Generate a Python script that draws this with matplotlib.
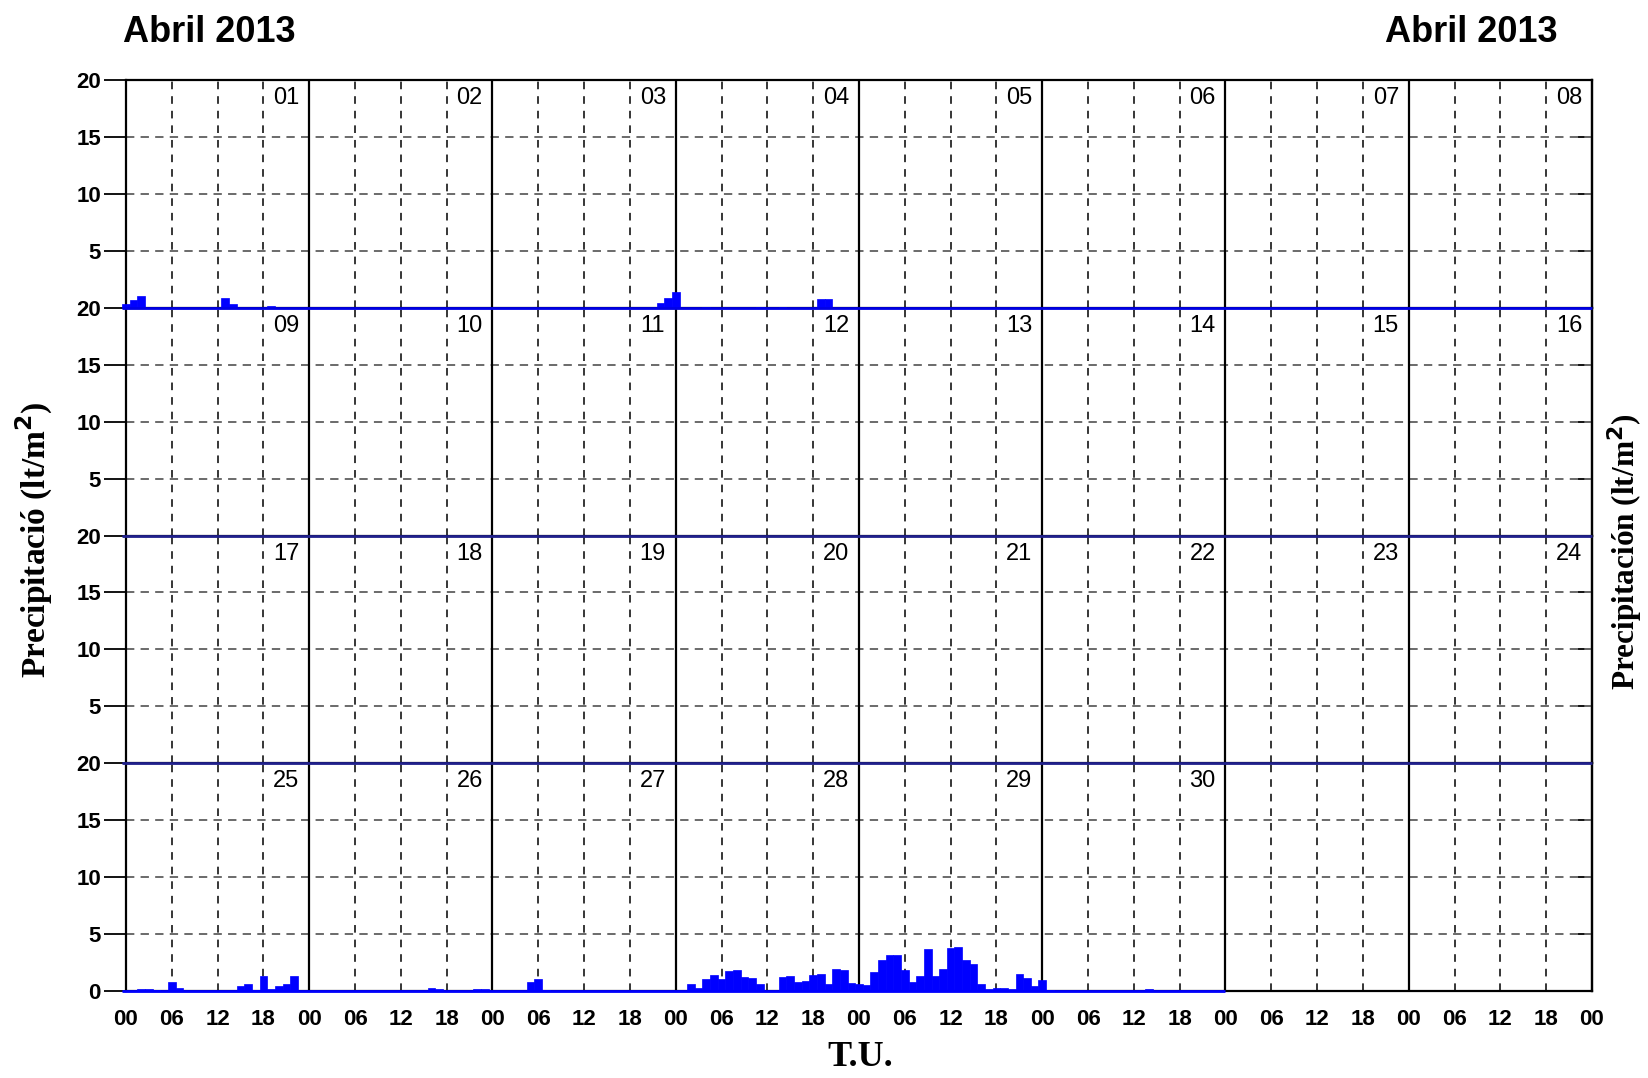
#!/usr/bin/env python3
import matplotlib
matplotlib.use('Agg')
import matplotlib.pyplot as plt
import numpy as np

matplotlib.rcParams['lines.scale_dashes'] = False

FIGSIZE = (16.49, 10.78)
DPI = 100

HOURS = list(range(24))
DAY_LABELS = ["%02d" % d for d in range(1, 31)]
HOUR_TICKS = ["00", "06", "12", "18"]
YTICKS = [5, 10, 15, 20]

# hourly precipitation (lt/m2), one value per hour 00..23
rain_01 = [0.35, 0.65, 1.0, 0, 0, 0, 0, 0, 0, 0, 0, 0, 0, 0.9, 0.3, 0, 0, 0, 0, 0.17, 0, 0, 0, 0]
rain_03 = [0, 0, 0, 0, 0, 0, 0, 0, 0, 0, 0, 0, 0, 0, 0, 0, 0, 0, 0, 0, 0, 0, 0.45, 0.9]
rain_04 = [1.35, 0, 0, 0, 0.1, 0, 0, 0, 0, 0, 0, 0.1, 0, 0, 0.1, 0, 0, 0, 0, 0.75, 0.75, 0, 0, 0]
rain_25 = [0, 0, 0.18, 0.18, 0.06, 0, 0.75, 0.27, 0, 0, 0, 0, 0, 0, 0, 0.47, 0.58, 0.1, 1.28, 0.18, 0.47, 0.58, 1.35, 0]
rain_26 = [0, 0, 0, 0, 0, 0, 0, 0, 0, 0, 0, 0, 0, 0, 0, 0, 0.3, 0.2, 0, 0, 0, 0, 0.2, 0.2]
rain_27 = [0, 0, 0, 0, 0, 0.8, 1.08, 0.1, 0, 0, 0, 0, 0, 0, 0, 0, 0, 0, 0, 0, 0, 0, 0, 0]
rain_28 = [0, 0, 0.61, 0.23, 1.02, 1.37, 1.02, 1.72, 1.84, 1.2, 1.11, 0.61, 0, 0, 1.2, 1.32, 0.82, 0.9, 1.4, 1.49, 0.61, 1.9, 1.84, 0.67]
rain_29 = [0.61, 0.5, 1.7, 2.72, 3.16, 3.16, 1.84, 0.82, 1.32, 3.68, 1.32, 1.9, 3.8, 3.89, 2.72, 2.4, 0.61, 0.2, 0.3, 0.3, 0.2, 1.49, 1.11, 0.44]
rain_30 = [0.96, 0.05, 0, 0, 0, 0, 0, 0, 0, 0, 0, 0, 0, 0, 0.2, 0, 0, 0, 0, 0, 0, 0, 0, 0]
DRY = [0] * 24

RAIN = {1: rain_01, 3: rain_03, 4: rain_04, 25: rain_25, 26: rain_26,
        27: rain_27, 28: rain_28, 29: rain_29, 30: rain_30}

BLUE = '#0000FF'
BASE_COLORS = ['#0000E6', '#20208C', '#20208C', '#0000FF']
LEFT, RIGHT = 126 / 1649, 1592 / 1649
TOP, BOTTOM = 1 - 80 / 1078, 1 - 991 / 1078


def day_values(day):
    return RAIN.get(day, DRY)


def draw_row(fig, row):
    h = (TOP - BOTTOM) / 4
    ax = fig.add_axes([LEFT, TOP - (row + 1) * h, RIGHT - LEFT, h])
    days = [row * 8 + i + 1 for i in range(8)]
    days = [d for d in days if d <= 30]

    for i, d in enumerate(days):
        x = i * 24 + np.array(HOURS)
        ax.bar(x, day_values(d), width=1.0, color=BLUE, edgecolor=BLUE,
               linewidth=0.5, zorder=4, clip_on=False)
        ax.text(i * 24 + 21, 18.4, DAY_LABELS[d - 1], ha='center', va='center',
                fontsize=17, family='Liberation Sans', zorder=5)

    # baseline where there is data
    ax.plot([-0.5, len(days) * 24], [0, 0], color=BASE_COLORS[row], lw=2.0, zorder=5,
            clip_on=False, solid_capstyle='butt')

    for y in [5, 10, 15]:
        ax.axhline(y, color='#6a6a6a', lw=1.4, ls=(0, (6, 4.5)), zorder=1)
    for d in range(8):
        for hh in [6, 12, 18]:
            ax.axvline(d * 24 + hh, color='black', lw=1.1, ls=(0, (5.5, 5)), zorder=1)
        if d > 0:
            ax.axvline(d * 24, color='black', lw=1.6, zorder=2)

    ax.set_xlim(0, 192)
    ax.set_ylim(0, 20)
    for s in ax.spines.values():
        s.set_linewidth(1.6)
    if row > 0:
        ax.spines['top'].set_visible(False)

    ticks = YTICKS if row < 3 else [0] + YTICKS
    ax.set_yticks(ticks)
    ax.set_yticklabels([str(t) for t in ticks], fontsize=16, fontweight='bold',
                       family='Liberation Sans')
    ax.tick_params(axis='y', direction='out', length=16, width=1.3, pad=2)

    sec = ax.secondary_yaxis('right')
    sec.set_yticks(ticks)
    sec.tick_params(direction='in', length=10, width=1.3, labelright=False)
    sec.spines['right'].set_linewidth(1.6)

    if row == 3:
        xt = list(range(0, 193, 6))
        ax.set_xticks(xt)
        ax.set_xticklabels([HOUR_TICKS[(t // 6) % 4] for t in xt], fontsize=16,
                           fontweight='bold', family='Liberation Sans')
        ax.tick_params(axis='x', length=0, pad=13)
    else:
        ax.set_xticks([])
    return ax


def main(savename):
    fig = plt.figure(figsize=FIGSIZE, dpi=DPI)
    # bottom row first so the baselines of upper rows stay on top
    for row in [3, 2, 1, 0]:
        draw_row(fig, row)

    title_kw = dict(fontsize=26, fontweight='bold', family='Liberation Sans',
                    ha='center', va='center')
    fig.text(209 / 1649, 1 - 32 / 1078, 'Abril 2013', **title_kw)
    fig.text(1471 / 1649, 1 - 32 / 1078, 'Abril 2013', **title_kw)

    lab_kw = dict(fontweight='bold', family='Liberation Serif',
                  rotation=90, ha='center', va='center')
    fig.text(34 / 1649, 1 - 540 / 1078, 'Precipitació (lt/m$^\\mathbf{2}$)',
             fontsize=24, **lab_kw)
    fig.text(1625 / 1649, 1 - 552 / 1078, 'Precipitación (lt/m$^\\mathbf{2}$)',
             fontsize=22.5, **lab_kw)
    fig.text(860 / 1649, 1 - 1058 / 1078, 'T.U.', fontsize=26, fontweight='bold',
             family='Liberation Serif', ha='center', va='center')

    fig.savefig(savename, dpi=DPI)
    print(f'Saved to {savename}')


if __name__ == '__main__':
    main('out.png')
